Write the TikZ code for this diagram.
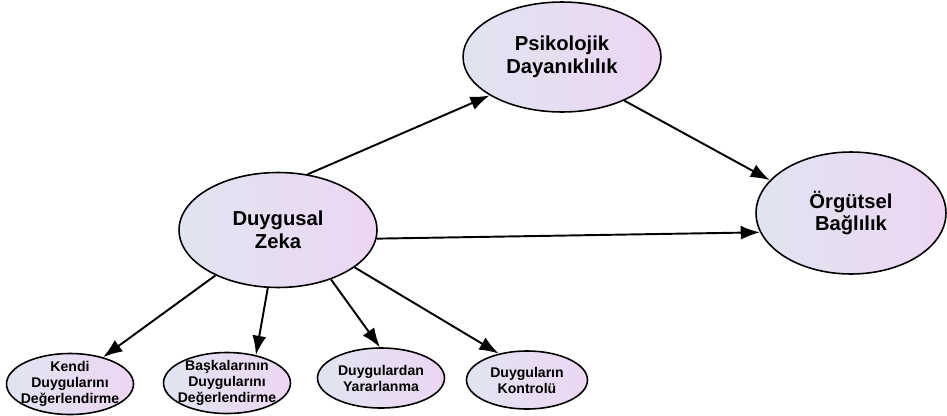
\documentclass[tikz,border=0pt]{standalone}
\usepackage{fontspec}
\setmainfont{Liberation Sans}
\usepackage{tikz}
\usetikzlibrary{shapes.geometric, arrows.meta}

\definecolor{ovalleft}{RGB}{224,228,240}
\definecolor{ovalright}{RGB}{237,214,243}

\tikzset{
    oval/.style={draw, ellipse, line width=0.9pt, inner sep=0pt, align=center,
        left color=ovalleft, right color=ovalright, font=\bfseries},
    bigoval/.style={oval, minimum width=3.96cm, minimum height=2.3cm,
        font=\fontsize{11.5}{13}\selectfont\bfseries},
    smalloval/.style={oval, inner xsep=-4pt, inner ysep=-3pt,
        minimum width=2.54cm, minimum height=1.22cm,
        font=\fontsize{8}{9.1}\selectfont\bfseries},
    link/.style={line width=1.1pt, -{Latex[length=11pt,width=8pt]}}
}

\begin{document}
\begin{tikzpicture}[x=0.02cm, y=-0.02cm]
\useasboundingbox (0,0) rectangle (947,416);

\node[bigoval] (zeka) at (278,230) {Duygusal\\Zeka};
\node[bigoval, minimum height=2.2cm] (psik) at (562,57) {Psikolojik\\Dayanıklılık};
\node[bigoval, minimum width=3.8cm, minimum height=2.44cm] (orgut) at (851,213) {Örgütsel\\Bağlılık};

\node[smalloval] (kendi) at (70,384) {Kendi\\Duygularını\\Değerlendirme};
\node[smalloval] (baska) at (227,383) {Başkalarının\\Duygularını\\Değerlendirme};
\node[smalloval, minimum height=1.2cm] (yarar) at (381,378) {Duygulardan\\Yararlanma};
\node[smalloval, minimum width=2.42cm, minimum height=1.16cm] (kontrol) at (527,380) {Duyguların\\Kontrolü};

\draw[link] (zeka.62) -- (psik.208);
\draw[link] (psik.325) -- (orgut.158);
\draw[link] (zeka.355) -- (orgut.192);

\draw[link] (zeka.216) -- (kendi.39);
\draw[link] (zeka.260) -- (baska.44);
\draw[link] (zeka.317) -- (yarar.92);
\draw[link] (zeka.334) -- (kontrol.137);
\end{tikzpicture}
\end{document}
